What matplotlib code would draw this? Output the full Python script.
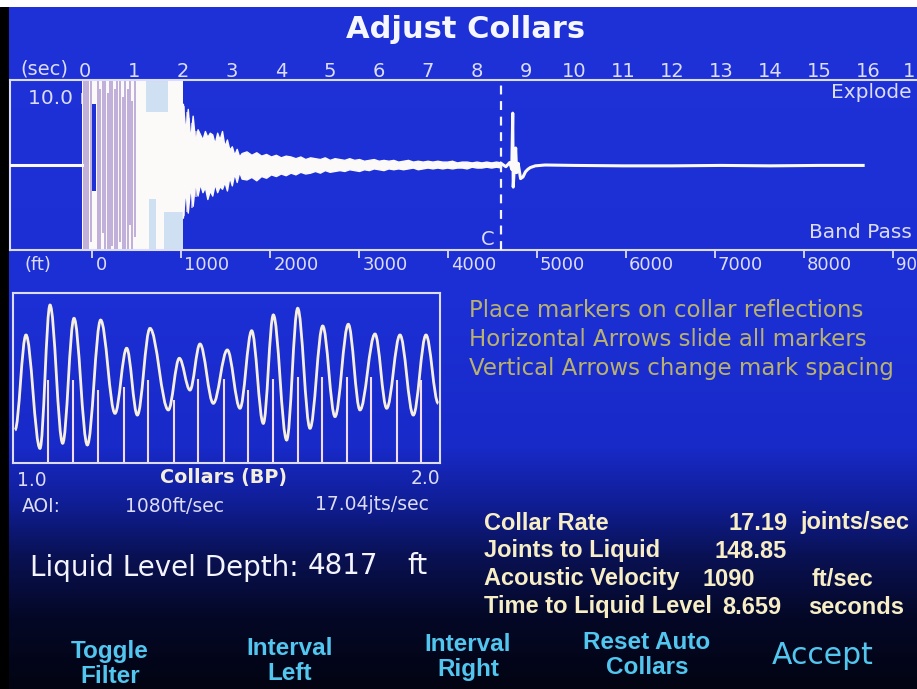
import numpy as np
import matplotlib
matplotlib.use("Agg")
import matplotlib.pyplot as plt
from matplotlib.path import Path
from matplotlib.patches import PathPatch
from matplotlib.transforms import ScaledTranslation

# ---------------- data ----------------
title = "Adjust Collars"

sec_ticks = [0, 1, 2, 3, 4, 5, 6, 7, 8, 9, 10, 11, 12, 13, 14, 15, 16, 17]
# the last label is cut by the screen edge in the picture: only "1" shows
sec_labels = ["0", "1", "2", "3", "4", "5", "6", "7", "8", "9", "10", "11",
              "12", "13", "14", "15", "16", "1"]
ft_ticks = [0, 1000, 2000, 3000, 4000, 5000, 6000, 7000, 8000, 9000]
# the last label is cut by the screen edge in the picture: only "90" shows
ft_labels = ["0", "1000", "2000", "3000", "4000", "5000", "6000", "7000",
             "8000", "90"]
ft_zero_sec = 0.153          # time under the 0 ft tick
sec_per_ft = 0.0018167       # time scale of the depth axis

# pre-trigger baseline
pre_t = [-1.55, -0.07]
pre_a = [0.0, 0.0]
# saturated shot burst
burst_start, burst_end = -0.07, 2.0
burst_line_t = [-0.03, 0.02, 0.07, 0.12, 0.26, 0.31, 0.36, 0.41, 0.46, 0.51,
                0.56, 0.61, 0.66, 0.72, 0.77, 0.82, 0.87, 0.92, 0.97, 1.02]
burst_line_lo = [-1.0, -1.0, -1.0, -0.9, -1.0, -1.0, -0.8, -1.0, -1.0, -1.0,
                 -0.95, -1.0, -1.0, -0.9, -1.0, -1.0, -1.0, -0.7, -1.0, -0.85]
burst_line_hi = [1.0, 1.0, 1.0, 1.0, 1.0, 0.9, 1.0, 1.0, 0.85, 1.0, 1.0,
                 0.9, 1.0, 1.0, 0.8, 1.0, 0.9, 1.0, 0.75, 1.0]
gap_t0 = [0.15]
gap_t1 = [0.23]
gap_lo = [-0.3]
gap_hi = [0.72]
lb_t0 = [1.25, 1.30, 1.62]
lb_t1 = [1.70, 1.45, 2.00]
lb_lo = [0.62, -1.0, -1.0]
lb_hi = [1.0, -0.40, -0.55]
# decaying reverberation (min / max envelope)
env_t = [2.00, 2.05, 2.10, 2.15, 2.20, 2.25, 2.30, 2.35, 2.40, 2.45, 2.50,
         2.55, 2.60, 2.65, 2.70, 2.75, 2.80, 2.85, 2.90, 2.95, 3.00, 3.05,
         3.10, 3.15, 3.20, 3.3, 3.4, 3.5, 3.6, 3.7, 3.8, 3.9, 4.0, 4.1, 4.2,
         4.3, 4.4, 4.5, 4.6, 4.7, 4.8, 4.9, 5.0, 5.1, 5.2, 5.3, 5.4, 5.5,
         5.6, 5.7, 5.8, 5.9, 6.0, 6.1, 6.2, 6.3, 6.4, 6.5, 6.6, 6.7, 6.8,
         6.9, 7.0, 7.1, 7.2, 7.3, 7.4, 7.5, 7.6, 7.7, 7.8, 7.9, 8.0, 8.1,
         8.2, 8.3, 8.4, 8.5]
env_hi = [0.72, 0.40, 0.66, 0.30, 0.58, 0.28, 0.42, 0.36, 0.30, 0.40, 0.33,
          0.38, 0.36, 0.25, 0.38, 0.30, 0.40, 0.22, 0.30, 0.18, 0.22, 0.12,
          0.19, 0.10, 0.14, 0.16, 0.12, 0.15, 0.11, 0.13, 0.10, 0.12, 0.09,
          0.11, 0.10, 0.08, 0.10, 0.07, 0.09, 0.08, 0.07, 0.09, 0.06, 0.08,
          0.07, 0.06, 0.08, 0.06, 0.07, 0.05, 0.06, 0.07, 0.05, 0.06, 0.05,
          0.06, 0.04, 0.05, 0.06, 0.04, 0.05, 0.04, 0.05, 0.04, 0.05, 0.04,
          0.04, 0.05, 0.03, 0.04, 0.04, 0.03, 0.04, 0.03, 0.04, 0.03, 0.04,
          0.03]
env_lo = [-0.62, -0.30, -0.56, -0.25, -0.48, -0.20, -0.36, -0.22, -0.32,
          -0.26, -0.40, -0.30, -0.36, -0.22, -0.32, -0.25, -0.28, -0.20,
          -0.30, -0.14, -0.24, -0.10, -0.20, -0.08, -0.16, -0.17, -0.14,
          -0.18, -0.13, -0.15, -0.11, -0.13, -0.10, -0.12, -0.09, -0.11,
          -0.08, -0.10, -0.09, -0.07, -0.09, -0.06, -0.08, -0.07, -0.06,
          -0.07, -0.05, -0.06, -0.07, -0.05, -0.06, -0.04, -0.05, -0.06,
          -0.04, -0.05, -0.04, -0.05, -0.04, -0.03, -0.05, -0.04, -0.03,
          -0.04, -0.03, -0.04, -0.03, -0.04, -0.03, -0.03, -0.04, -0.02,
          -0.03, -0.03, -0.02, -0.03, -0.02, -0.03]
spike_line_t = [2.03, 2.08, 2.13, 2.19, 2.26, 2.33, 2.41]
spike_line_lo = [-0.60, -0.55, -0.45, -0.50, -0.38, -0.30, -0.32]
spike_line_hi = [0.70, 0.62, 0.55, 0.50, 0.40, 0.36, 0.30]
# liquid level echo and tail
tail_t = [8.50, 8.60, 8.68, 8.72, 8.74, 8.75, 8.78, 8.80, 8.82, 8.85, 8.90,
          8.95, 9.00, 9.05, 9.10, 9.20, 9.40, 10.0, 11.0, 12.0, 13.0, 14.0,
          15.0, 15.9]
tail_a = [0.02, -0.02, 0.03, -0.05, 0.61, -0.26, 0.05, 0.20, -0.09, 0.02,
          -0.16, -0.14, -0.08, -0.05, -0.03, -0.01, 0.0, -0.005, -0.01,
          -0.01, -0.005, -0.01, -0.005, -0.005]
liquid_marker_sec = 8.51

# collar (band pass) window 1.0 - 2.0 sec
collar_t = [1.0047, 1.0304, 1.0632, 1.0867, 1.1163, 1.1429, 1.1741, 1.2053,
            1.2389, 1.2662, 1.2912, 1.3208, 1.3638, 1.3895, 1.4145, 1.4379,
            1.4691, 1.5019, 1.5316, 1.5590, 1.5862, 1.6097, 1.6409, 1.6667,
            1.6956, 1.7253, 1.7541, 1.7853, 1.8126, 1.8478, 1.8752, 1.9063,
            1.9375, 1.9672, 1.9960]
collar_a = [0.194, 0.753, 0.086, 0.929, 0.116, 0.851, 0.106, 0.841, 0.292,
            0.675, 0.282, 0.792, 0.312, 0.616, 0.429, 0.700, 0.351, 0.665,
            0.322, 0.778, 0.233, 0.871, 0.135, 0.910, 0.204, 0.806, 0.273,
            0.816, 0.312, 0.759, 0.322, 0.753, 0.282, 0.753, 0.351]
marker_t = [1.0827, 1.1413, 1.1998, 1.2600, 1.3169, 1.3770, 1.4340, 1.4941,
            1.5511, 1.6096, 1.6667, 1.7230, 1.7815, 1.8384, 1.8986, 1.9548]
marker_top = [0.488, 0.488, 0.429, 0.449, 0.488, 0.371, 0.494, 0.494, 0.429,
              0.494, 0.508, 0.508, 0.508, 0.508, 0.488, 0.488]

instructions = ["Place markers on collar reflections",
                "Horizontal Arrows slide all markers",
                "Vertical Arrows change mark spacing"]
result_labels = ["Collar Rate", "Joints to Liquid", "Acoustic Velocity",
                 "Time to Liquid Level"]
result_values = ["17.19", "148.85", "1090", "8.659"]
result_units = ["joints/sec", "", "ft/sec", "seconds"]
buttons = ["Toggle\nFilter", "Interval\nLeft", "Interval\nRight",
           "Reset Auto\nCollars"]

# ---------------- styling ----------------
W, H = 917, 689
LAV = "#dcdcf4"
KHAKI = "#b9b26e"
CREAM = "#f7eec6"
CYAN = "#52c6ef"
BLUEBG = "#1e31d6"
TRACE = "#fbfaf8"

fig = plt.figure(figsize=(W / 100, H / 100), dpi=100)
fig.patch.set_facecolor("white")


def fx(x):
    return x / W


def fy(y):
    return 1 - y / H


def T(x, y, s, size, color=LAV, ha="left", va="center", weight="normal",
      family=("DejaVu Sans",), zorder=5, **kw):
    fig.text(fx(x), fy(y), s, fontsize=size, color=color, ha=ha, va=va,
             fontweight=weight, family=list(family), zorder=zorder, **kw)


# left black strip
axk = fig.add_axes([0, 0, fx(9), fy(7)])
axk.set_axis_off()
axk.add_patch(plt.Rectangle((0, 0), 1, 1, color="black", transform=axk.transAxes))

# background gradient
axbg = fig.add_axes([fx(9), 0, 1 - fx(9), fy(7)], zorder=0)
stops_y = [0, 300, 440, 495, 550, 610, 689]
stops_c = np.array([[30, 50, 216], [28, 47, 212], [24, 42, 200],
                    [16, 30, 150], [9, 17, 82], [4, 8, 38], [2, 4, 16]]) / 255
rows = np.arange(H - 7)
grad = np.stack([np.interp(rows, stops_y, stops_c[:, k]) for k in range(3)], axis=1)
axbg.imshow(grad[:, None, :], aspect="auto", extent=(0, 1, 0, 1), origin="upper")
axbg.set_axis_off()

# ---------------- top panel ----------------
px0, pps = 85.0, 48.94
ax1 = fig.add_axes([fx(10), fy(250), 1 - fx(10), (250 - 80) / H], zorder=2)
ax1.set_facecolor("none")
ax1.set_xlim((10 - px0) / pps, (917 - px0) / pps)
ax1.set_ylim(-1, 1)
for side in ["top", "left", "bottom"]:
    ax1.spines[side].set_color(LAV)
    ax1.spines[side].set_linewidth(1.5)
ax1.spines["right"].set_visible(False)
ax1.set_yticks([])
ax1.xaxis.tick_top()
ax1.set_xticks(sec_ticks)
ax1.set_xticklabels(sec_labels)
ax1.tick_params(axis="x", length=0, pad=-1.0, labelsize=14, labelcolor=LAV)
last = ax1.get_xticklabels()[-1]
last.set_horizontalalignment("right")
last.set_transform(last.get_transform() + ScaledTranslation(-2 / 100, 0, fig.dpi_scale_trans))

sec = ax1.secondary_xaxis("bottom", functions=(
    lambda t: (t - ft_zero_sec) / sec_per_ft,
    lambda f: ft_zero_sec + f * sec_per_ft))
sec.set_xticks(ft_ticks)
sec.set_xticklabels(ft_labels)
sec.spines["bottom"].set_visible(False)
sec.tick_params(direction="out", length=5.5, width=1.3, color=LAV,
                labelcolor=LAV, labelsize=13, pad=-1.5)
for lbl in sec.get_xticklabels():
    lbl.set_horizontalalignment("left")
    lbl.set_transform(lbl.get_transform() + ScaledTranslation(3 / 100, 0, fig.dpi_scale_trans))
sec.get_xticklabels()[-1].set_fontsize(12)

# "10.0 mV" label under the trace
ax1.text(-1.17, 0.78, "10.0 mV", fontsize=14.5, color=LAV, va="center",
         ha="left", zorder=1)

ax1.plot(pre_t, pre_a, color=TRACE, lw=2.2, zorder=3)
ax1.axvspan(burst_start, burst_end, color=TRACE, lw=0, zorder=2)
ax1.bar(gap_t0, np.array(gap_hi) - np.array(gap_lo),
        width=np.array(gap_t1) - np.array(gap_t0), bottom=gap_lo,
        align="edge", color=BLUEBG, lw=0, zorder=2.1)
ax1.bar(lb_t0, np.array(lb_hi) - np.array(lb_lo),
        width=np.array(lb_t1) - np.array(lb_t0), bottom=lb_lo,
        align="edge", color="#cfe0f3", lw=0, zorder=2.2)
ax1.vlines(burst_line_t, burst_line_lo, burst_line_hi, color="#b09ad2",
           lw=1.1, zorder=2.5)
ax1.fill_between(env_t, env_lo, env_hi, color=TRACE, lw=1.0,
                 edgecolor=TRACE, zorder=3)
ax1.vlines(spike_line_t, spike_line_lo, spike_line_hi, color="#c4b2e2",
           lw=1.2, zorder=2.6)
ax1.plot(tail_t, tail_a, color=TRACE, lw=2.2, zorder=3)
ax1.axvline(liquid_marker_sec, color="#f4f4ff", lw=1.6, ls=(0, (4, 3)), zorder=4)

T(20, 69, "(sec)", 14)
T(912, 93, "Explode", 14.5, ha="right")
T(912, 233, "Band Pass", 14.5, ha="right")
T(481, 240, "C", 14)
T(24, 265, "(ft)", 13)

# ---------------- collars panel ----------------
ax2 = fig.add_axes([fx(13), fy(463), (440 - 13) / W, (463 - 293) / H], zorder=2)
ax2.set_facecolor("none")
ax2.set_xlim(1.0, 2.0)
ax2.set_ylim(0, 1)
ax2.set_xticks([])
ax2.set_yticks([])
for s in ax2.spines.values():
    s.set_color(LAV)
    s.set_linewidth(1.5)

ax2.vlines(marker_t, 0, marker_top, color="#f2dcf2", lw=1.5, zorder=2)
verts = [(collar_t[0], collar_a[0])]
codes = [Path.MOVETO]
for i in range(len(collar_t) - 1):
    dt = collar_t[i + 1] - collar_t[i]
    verts += [(collar_t[i] + 0.36 * dt, collar_a[i]),
              (collar_t[i + 1] - 0.36 * dt, collar_a[i + 1]),
              (collar_t[i + 1], collar_a[i + 1])]
    codes += [Path.CURVE4] * 3
ax2.add_patch(PathPatch(Path(verts, codes), facecolor="none",
                        edgecolor="#f6efe0", lw=2.0, zorder=3))

T(17, 480, "1.0", 13.5)
T(223, 478, "Collars (BP)", 13.8, ha="center", weight="bold", color="#f4eedc")
T(440, 479, "2.0", 13.5, ha="right")
T(22, 507, "AOI:", 13.5)
T(125, 507, "1080ft/sec", 13.5)
T(315, 505, "17.04jts/sec", 13.5)

# ---------------- instructions ----------------
for i, line in enumerate(instructions):
    T(469, 311 + 28.5 * i, line, 16.5, color=KHAKI)

# ---------------- results ----------------
T(30, 568, "Liquid Level Depth:", 20, color="#f4f4ff")
T(308, 566, "4817", 20, color="#f4f4ff")
T(407, 566, "ft", 20, color="#f4f4ff")

val_x = [728, 715, 703, 722]
unit_x = [800, 0, 812, 808]
for i in range(4):
    y = 523 + 28 * i
    T(484, y, result_labels[i], 17, color=CREAM, weight="bold",
      family=("Liberation Sans", "DejaVu Sans"))
    T(val_x[i], y, result_values[i], 17, color=CREAM, weight="bold",
      family=("Liberation Sans", "DejaVu Sans"))
    if result_units[i]:
        T(unit_x[i], y, result_units[i], 17, color=CREAM, weight="bold",
          family=("Liberation Sans", "DejaVu Sans"))

# ---------------- buttons ----------------
btn_x = [110, 290, 468, 647]
btn_y = [664, 661, 657, 655]
for i, b in enumerate(buttons):
    T(btn_x[i], btn_y[i], b, 17.5, color=CYAN, ha="center", weight="bold",
      family=("Liberation Sans", "DejaVu Sans"), linespacing=1.15)
T(823, 655, "Accept", 21.5, color=CYAN, ha="center")

# title
T(466, 30, title, 22, color="#f6f6ff", ha="center", weight="bold")

fig.savefig("out.png", dpi=100, facecolor=fig.get_facecolor())
